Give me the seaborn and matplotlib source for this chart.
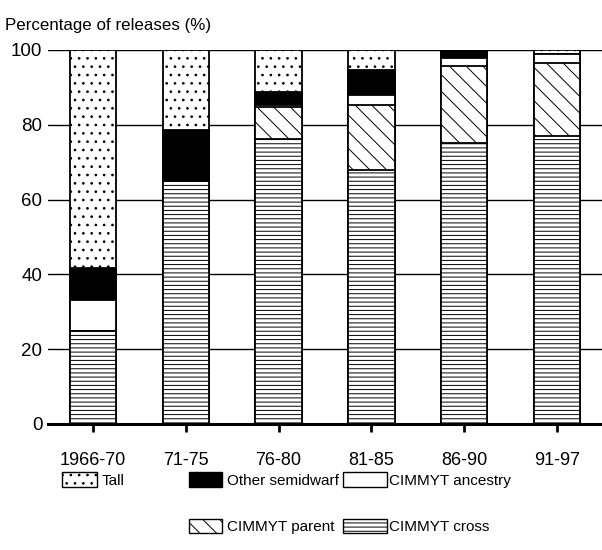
import matplotlib
matplotlib.use("Agg")
import matplotlib.pyplot as plt
import seaborn as sns
import numpy as np
from matplotlib.patches import Patch

periods = ["1966-70", "71-75", "76-80", "81-85", "86-90", "91-97"]
cimmyt_cross = [25.0, 64.9, 76.3, 67.8, 75.0, 76.9]
cimmyt_parent = [0.0, 0.0, 8.4, 17.6, 20.7, 19.7]
cimmyt_ancestry = [8.2, 0.4, 0.6, 2.5, 2.1, 2.2]
other_semidwarf = [8.6, 13.2, 3.6, 6.7, 2.2, 0.0]
tall = [58.2, 21.5, 11.1, 5.4, 0.0, 1.2]
y_ticks = [0, 20, 40, 60, 80, 100]
y_label = "Percentage of releases (%)"

sns.set_theme(style="white")
plt.rcParams["font.family"] = ["Liberation Sans", "DejaVu Sans"]
plt.rcParams["text.color"] = "black"
plt.rcParams["hatch.linewidth"] = 0.7
plt.rcParams["hatch.color"] = "black"

fig = plt.figure(figsize=(6.02, 5.5), dpi=100)
ax = fig.add_axes([48 / 602, 1 - 424 / 550, 1 - 48 / 602, (424 - 50) / 550])

layers = [
    ("Tall", "white", ".."),
    ("Other semidwarf", "black", None),
    ("CIMMYT ancestry", "white", None),
    ("CIMMYT parent", "white", "\\\\"),
    ("CIMMYT cross", "white", "----"),
]
# cumulative tops, from bottom (cross) upward
stack_order = [cimmyt_cross, cimmyt_parent, cimmyt_ancestry, other_semidwarf, tall]
cum = np.cumsum(np.array(stack_order), axis=0)
cum_by_name = {
    "CIMMYT cross": cum[0],
    "CIMMYT parent": cum[1],
    "CIMMYT ancestry": cum[2],
    "Other semidwarf": cum[3],
    "Tall": cum[4],
}

for name, fc, hatch in layers:
    sns.barplot(x=periods, y=cum_by_name[name], ax=ax, color=fc, saturation=1,
                width=0.5, edgecolor="black", linewidth=1.3, hatch=hatch,
                zorder=3)

ax.set_xlim(-0.485, 5.485)
ax.set_ylim(0, 100)
ax.set_yticks(y_ticks)
ax.set_yticklabels([str(t) for t in y_ticks], fontsize=13.5)
ax.set_xticks(range(len(periods)))
ax.set_xticklabels(periods, fontsize=13)
ax.tick_params(axis="y", length=0, pad=4, colors="black")
ax.tick_params(axis="x", length=6, width=2, pad=14, colors="black", bottom=True)
ax.set_xlabel("")
ax.set_ylabel("")
ax.yaxis.grid(True, color="black", linewidth=1.0)
ax.xaxis.grid(False)
ax.set_axisbelow(True)
for s in ["top", "right", "left"]:
    ax.spines[s].set_visible(False)
ax.spines["bottom"].set_linewidth(2.2)
ax.spines["bottom"].set_color("black")
ax.spines["bottom"].set_zorder(5)

fig.text(5 / 602, 1 - 30 / 550, y_label, fontsize=12.2, ha="left", va="baseline",
         color="black")

fs = 11
fs_px = fs * 100 / 72
def mk(fc, hatch):
    return Patch(facecolor=fc, edgecolor="black", hatch=hatch, linewidth=1.0)

common = dict(loc="upper left", frameon=False, fontsize=fs, borderpad=0,
              borderaxespad=0, handleheight=17 / fs_px, labelspacing=(48 - 17) / fs_px,
              labelcolor="black")
fig.legend([mk("white", "..")], ["Tall"],
           bbox_to_anchor=(62 / 602, 1 - 472 / 550), handlelength=35 / fs_px,
           handletextpad=0.3, **common)
fig.legend([mk("black", None), mk("white", "\\\\")], ["Other semidwarf", "CIMMYT parent"],
           bbox_to_anchor=(189 / 602, 1 - 472 / 550), handlelength=33 / fs_px,
           handletextpad=0.35, **common)
fig.legend([mk("white", None), mk("white", "----")], ["CIMMYT ancestry", "CIMMYT cross"],
           bbox_to_anchor=(343 / 602, 1 - 472 / 550), handlelength=44 / fs_px,
           handletextpad=0.12, **common)

fig.savefig("out.png", dpi=100)
